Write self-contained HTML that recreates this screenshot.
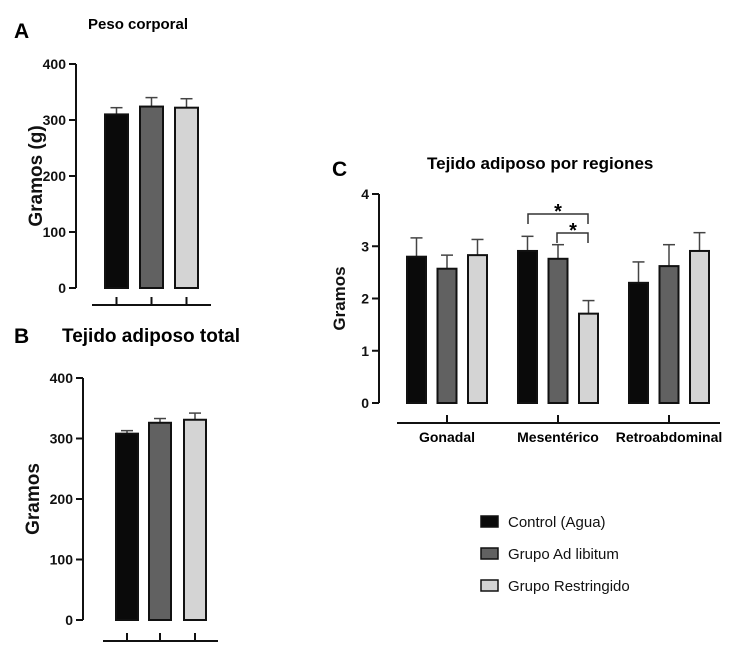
<!DOCTYPE html>
<html><head><meta charset="utf-8"><style>
body{margin:0;background:#fff;}
svg text{font-family:"Liberation Sans",Arial,sans-serif;}
</style></head><body>
<svg id="fig" width="737" height="661" xmlns="http://www.w3.org/2000/svg">
<g id="root"></g>
</svg>
<script>
const groupsA = ["Control (Agua)","Grupo Ad libitum","Grupo Restringido"];
const colors = ["#0a0a0a","#616161","#d4d4d4"];
const valuesA = [310,324,322];
const errorsA = [12,16,16];
const valuesB = [308,326,331];
const errorsB = [5,7,11];
const ticksAB = [0,100,200,300,400];
const regions = ["Gonadal","Mesentérico","Retroabdominal"];
const valuesC_control = [2.8,2.91,2.3];
const valuesC_adlib = [2.57,2.76,2.62];
const valuesC_restr = [2.83,1.71,2.91];
const errorsC_control = [0.36,0.28,0.4];
const errorsC_adlib = [0.26,0.27,0.41];
const errorsC_restr = [0.3,0.25,0.35];
const ticksC = [0,1,2,3,4];

const NS="http://www.w3.org/2000/svg";
const root=document.getElementById('root');
function mk(tag,attrs,parent,text){const e=document.createElementNS(NS,tag);for(const k in attrs)e.setAttribute(k,attrs[k]);if(text!==undefined)e.textContent=text;(parent||root).appendChild(e);return e;}

function panel(cfg){
  const g=mk('g',{});
  
  
  const y=v=>cfg.y0-(v-cfg.min)/(cfg.max-cfg.min)*(cfg.y0-cfg.yTop);
  const ax=mk('line',{x1:cfg.ax,y1:cfg.yTop,x2:cfg.ax,y2:cfg.y0,stroke:'#111','stroke-width':2},g);
  
  
  cfg.ticks.forEach(t=>{
    mk('line',{x1:cfg.ax-7,y1:y(t),x2:cfg.ax,y2:y(t),stroke:'#111','stroke-width':2},g);
    const tl=mk('text',{x:cfg.ax-10,y:y(t)+5,'text-anchor':'end','font-size':14,'font-weight':'bold',fill:'#111'},g,t);
    
    
  });
  const yt=mk('text',{x:0,y:0,'text-anchor':'middle','font-size':cfg.ytSize,'font-weight':'bold',fill:'#111',transform:`translate(${cfg.ytX},${(cfg.y0+cfg.yTop)/2}) rotate(-90)`},g,cfg.ytitle);
  
  
  const xa=mk('line',{x1:cfg.xaL,y1:cfg.xaY,x2:cfg.xaR,y2:cfg.xaY,stroke:'#111','stroke-width':2},g);
  
  
  return {g,y};
}
function bar(g,y,x,w,v,e,c,name){
  mk('line',{x1:x+w/2,y1:y(v),x2:x+w/2,y2:y(v+e),stroke:'#444','stroke-width':1.5},g);
  mk('line',{x1:x+w/2-6,y1:y(v+e),x2:x+w/2+6,y2:y(v+e),stroke:'#444','stroke-width':1.5},g);
  const r=mk('rect',{x:x,y:y(v),width:w,height:y(0)-y(v),fill:c,stroke:'#111','stroke-width':2},g);
  
  
}

(function(){
  const p=panel({name:'panel-a',ax:76,yTop:64,y0:288,min:0,max:400,ticks:ticksAB,ytitle:'Gramos (g)',ytSize:19,ytX:42,xaL:92,xaR:211,xaY:305});
  const xs=[105,140,175];
  valuesA.forEach((v,i)=>{bar(p.g,p.y,xs[i],23,v,errorsA[i],colors[i],'bar-a-'+i);
    mk('line',{x1:xs[i]+11.5,y1:297,x2:xs[i]+11.5,y2:305,stroke:'#111','stroke-width':2},p.g);});
  const L=mk('text',{x:14,y:38,'font-size':21,'font-weight':'bold'},p.g,'A');
  const T=mk('text',{x:88,y:29,'font-size':15,'font-weight':'bold'},p.g,'Peso corporal');
})();
(function(){
  const p=panel({name:'panel-b',ax:83,yTop:378,y0:620,min:0,max:400,ticks:ticksAB,ytitle:'Gramos',ytSize:19,ytX:39,xaL:103,xaR:218,xaY:641});
  const xs=[116,149,184];
  valuesB.forEach((v,i)=>{bar(p.g,p.y,xs[i],22,v,errorsB[i],colors[i],'bar-b-'+i);
    mk('line',{x1:xs[i]+11,y1:633,x2:xs[i]+11,y2:641,stroke:'#111','stroke-width':2},p.g);});
  const L=mk('text',{x:14,y:343,'font-size':21,'font-weight':'bold'},p.g,'B');
  const T=mk('text',{x:62,y:342,'font-size':19,'font-weight':'bold'},p.g,'Tejido adiposo total');
})();
(function(){
  const p=panel({name:'panel-c',ax:379,yTop:194,y0:403,min:0,max:4,ticks:ticksC,ytitle:'Gramos',ytSize:17,ytX:345,xaL:397,xaR:720,xaY:423});
  const series=[[valuesC_control,errorsC_control],[valuesC_adlib,errorsC_adlib],[valuesC_restr,errorsC_restr]];
  const centers=[447,558,669];
  regions.forEach((r,ri)=>{
    series.forEach((s,si)=>{const x=centers[ri]-40+si*30.5;bar(p.g,p.y,x,19,s[0][ri],s[1][ri],colors[si],'bar-c-'+ri+'-'+si);});
    mk('line',{x1:centers[ri],y1:415,x2:centers[ri],y2:423,stroke:'#111','stroke-width':2},p.g);
    const t=mk('text',{x:centers[ri],y:442,'text-anchor':'middle','font-size':14,'font-weight':'bold'},p.g,r);
    
  });
  const br=[[528,588,214,'558'],[557,588,233,'573']];
  br.forEach(b=>{
    mk('path',{d:`M${b[0]},${b[2]+10}V${b[2]}H${b[1]}V${b[2]+10}`,fill:'none',stroke:'#333','stroke-width':1.5},p.g);
    const s=mk('text',{x:b[3],y:b[2]+4,'text-anchor':'middle','font-size':20,'font-weight':'bold'},p.g,'*');
    
  });
  const L=mk('text',{x:332,y:176,'font-size':21,'font-weight':'bold'},p.g,'C');
  const T=mk('text',{x:427,y:169,'font-size':17,'font-weight':'bold'},p.g,'Tejido adiposo por regiones');
})();
(function(){
  const g=mk('g',{});
  
  
  groupsA.forEach((n,i)=>{
    const yy=516+i*32;
    const e=mk('g',{},g);
    
    
    mk('rect',{x:481,y:yy,width:17,height:11,fill:colors[i],stroke:'#111','stroke-width':1.5},e);
    mk('text',{x:508,y:yy+11,'font-size':15,fill:'#111'},e,n);
  });
})();
</script>
</body></html>
